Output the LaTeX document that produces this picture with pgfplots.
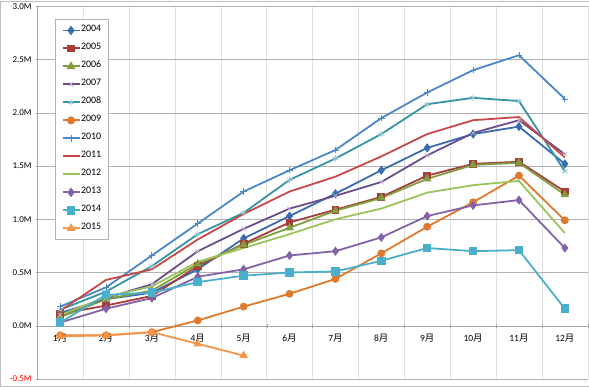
\documentclass[border=0pt]{standalone}
\usepackage{pgfplots}
\pgfplotsset{compat=1.18}
\usepackage{fontspec}
\setmainfont{Carlito}
\newfontfamily\cjk{Noto Sans CJK JP}
\newcommand\tsuki{{\cjk 月}}
\definecolor{c04}{HTML}{3A6BAE}
\definecolor{c05}{HTML}{A63E3B}
\definecolor{c06}{HTML}{7F9E3E}
\definecolor{c07}{HTML}{6A4E8C}
\definecolor{c08}{HTML}{3593A8}
\definecolor{c09}{HTML}{DD7A2E}
\definecolor{c10}{HTML}{4A86C8}
\definecolor{c11}{HTML}{C84846}
\definecolor{c12}{HTML}{9CC25A}
\definecolor{c13}{HTML}{8462A8}
\definecolor{c14}{HTML}{4AAFCB}
\definecolor{c15}{HTML}{F7964A}
\pgfplotsset{ln/.style={line width=1.8pt}}
\begin{document}
\begin{tikzpicture}
\draw[gray!50] (-37bp,-7bp) rectangle (552bp,378bp);
\begin{axis}[
  at={(0,0)}, anchor=south west,
  scale only axis, width=551bp, height=373bp,
  xmin=0.5, xmax=12.5, ymin=-0.5, ymax=3.0,
  axis x line=middle, axis y line=left,
  axis line style={gray!70, -},
  xtick={1,...,12},
  xticklabels={1\tsuki,2\tsuki,3\tsuki,4\tsuki,5\tsuki,6\tsuki,7\tsuki,8\tsuki,9\tsuki,10\tsuki,11\tsuki,12\tsuki},
  minor xtick={0.5,1.5,...,12.5},
  major x tick style={draw=none},
  minor x tick style={gray!70},
  minor tick length=4bp,
  xminorgrids, minor x grid style={gray!25},
  ytick={-0.5,0,0.5,1,1.5,2,2.5,3},
  yticklabels={\textcolor{red}{-0.5M},0.0M,0.5M,1.0M,1.5M,2.0M,2.5M,3.0M},
  ymajorgrids, major y grid style={gray!60},
  y tick style={gray!70}, major tick length=3bp,
  yticklabel style={font=\fontsize{9}{10}\selectfont, xshift=-0.5bp},
  xticklabel style={font=\fontsize{9.5}{11}\selectfont, yshift=-3bp},
  legend style={at={(0.033,0.965)}, anchor=north west, draw=gray!60,
    font=\fontsize{10}{12}\selectfont, row sep=0bp, inner xsep=6bp, inner ysep=2bp,
    nodes={inner xsep=0.5bp, inner ysep=1.5bp, text height=9bp, text depth=6bp},
    cells={anchor=west}},
  legend image code/.code={%
    \draw[mark repeat=2, mark phase=2, line width=2pt, #1]
      plot coordinates {(0bp,0bp) (8.5bp,0bp) (17bp,0bp)};},
  legend cell align=left,
]
\addplot[ln, c04, mark=diamond*, mark size=3.2] coordinates {(1,0.12)(2,0.25)(3,0.31)(4,0.53)(5,0.82)(6,1.03)(7,1.24)(8,1.46)(9,1.67)(10,1.80)(11,1.87)(12,1.52)};
\addlegendentry{2004}
\addplot[ln, c05, mark=square*, mark size=3] coordinates {(1,0.11)(2,0.19)(3,0.28)(4,0.56)(5,0.77)(6,0.97)(7,1.09)(8,1.21)(9,1.41)(10,1.52)(11,1.54)(12,1.26)};
\addlegendentry{2005}
\addplot[ln, c06, mark=triangle*, mark size=3.2] coordinates {(1,0.08)(2,0.25)(3,0.33)(4,0.58)(5,0.76)(6,0.92)(7,1.08)(8,1.20)(9,1.38)(10,1.51)(11,1.53)(12,1.23)};
\addlegendentry{2006}
\addplot[ln, c07, mark=x, mark size=3.2, mark options={line width=0.7pt, draw=c07!45}] coordinates {(1,0.10)(2,0.26)(3,0.39)(4,0.70)(5,0.91)(6,1.10)(7,1.22)(8,1.35)(9,1.60)(10,1.81)(11,1.93)(12,1.61)};
\addlegendentry{2007}
\addplot[ln, c08, mark=asterisk, mark size=3.2, mark options={line width=0.7pt, draw=c08!55}] coordinates {(1,0.15)(2,0.32)(3,0.56)(4,0.86)(5,1.06)(6,1.37)(7,1.57)(8,1.80)(9,2.08)(10,2.14)(11,2.11)(12,1.45)};
\addlegendentry{2008}
\addplot[ln, c09, mark=*, mark size=3] coordinates {(1,-0.09)(2,-0.09)(3,-0.06)(4,0.05)(5,0.18)(6,0.30)(7,0.44)(8,0.68)(9,0.93)(10,1.16)(11,1.41)(12,0.99)};
\addlegendentry{2009}
\addplot[ln, c10, mark=+, mark size=3.2, mark options={line width=0.8pt}] coordinates {(1,0.18)(2,0.36)(3,0.66)(4,0.96)(5,1.26)(6,1.46)(7,1.65)(8,1.95)(9,2.19)(10,2.40)(11,2.54)(12,2.13)};
\addlegendentry{2010}
\addplot[ln, c11, mark=none] coordinates {(1,0.14)(2,0.43)(3,0.53)(4,0.81)(5,1.05)(6,1.26)(7,1.40)(8,1.59)(9,1.80)(10,1.93)(11,1.96)(12,1.58)};
\addlegendentry{2011}
\addplot[ln, c12, mark=none] coordinates {(1,0.10)(2,0.27)(3,0.37)(4,0.60)(5,0.73)(6,0.86)(7,1.00)(8,1.10)(9,1.25)(10,1.32)(11,1.36)(12,0.87)};
\addlegendentry{2012}
\addplot[ln, c13, mark=diamond*, mark size=3.2] coordinates {(1,0.03)(2,0.16)(3,0.26)(4,0.46)(5,0.53)(6,0.66)(7,0.70)(8,0.83)(9,1.03)(10,1.13)(11,1.18)(12,0.73)};
\addlegendentry{2013}
\addplot[ln, c14, mark=square*, mark size=3.4] coordinates {(1,0.03)(2,0.29)(3,0.31)(4,0.41)(5,0.47)(6,0.50)(7,0.51)(8,0.61)(9,0.73)(10,0.70)(11,0.71)(12,0.16)};
\addlegendentry{2014}
\addplot[ln, c15, mark=triangle*, mark size=3.2] coordinates {(1,-0.10)(2,-0.09)(3,-0.06)(4,-0.17)(5,-0.28)};
\addlegendentry{2015}
\end{axis}
\end{tikzpicture}
\end{document}
